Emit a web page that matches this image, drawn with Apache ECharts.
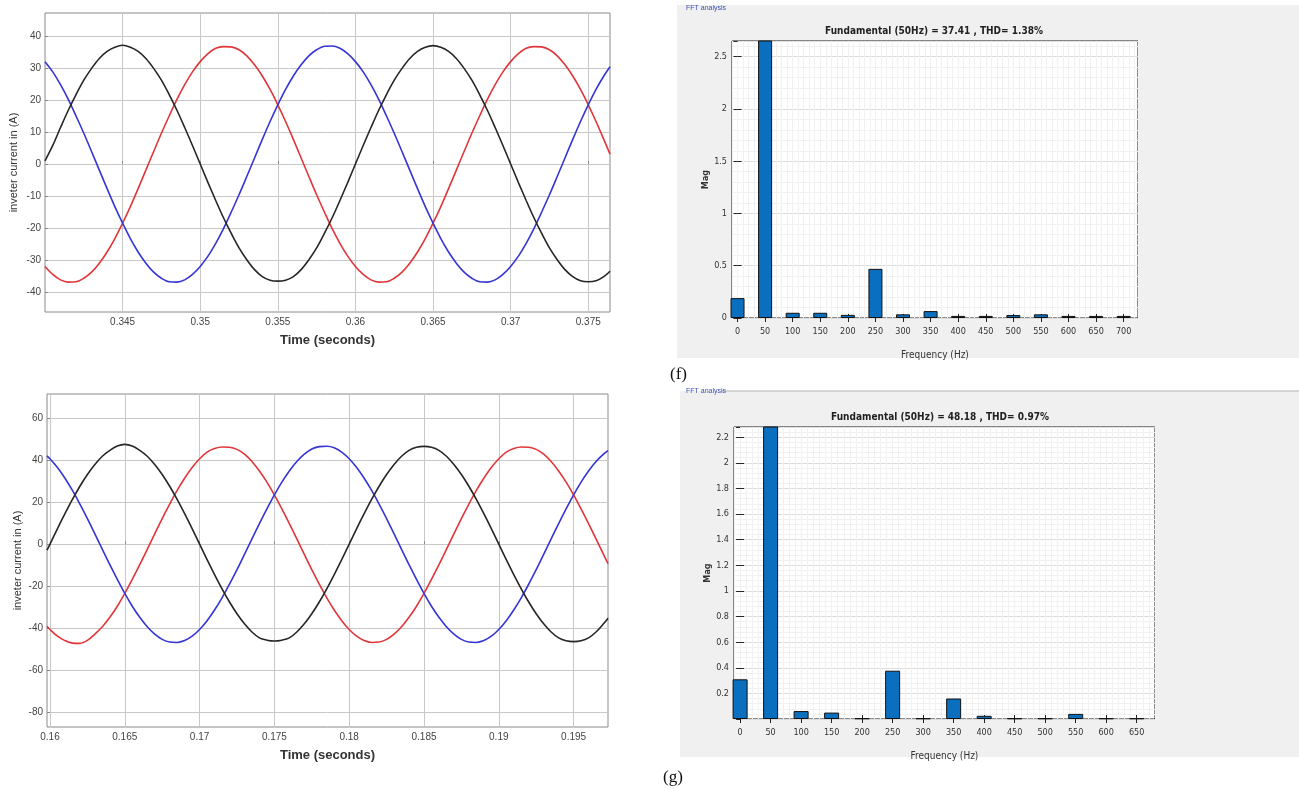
<!DOCTYPE html>
<html>
<head>
<meta charset="utf-8">
<script src="https://cdn.jsdelivr.net/npm/echarts@6/dist/echarts.min.js"></script>
<style>
html,body{margin:0;padding:0;background:#fff;}
#c{position:absolute;left:0;top:0;width:1299px;height:789px;}
</style>
</head>
<body>
<div id="c"></div>
<script>
// ---- top-left panel (time in seconds, inverter current in A)
const tTop = [0.3400,0.3405,0.3410,0.3415,0.3420,0.3425,0.3430,0.3435,0.3440,0.3445,0.3450,0.3455,0.3460,0.3465,0.3470,0.3475,0.3480,0.3485,0.3490,0.3495,0.3500,0.3505,0.3510,0.3515,0.3520,0.3525,0.3530,0.3535,0.3540,0.3545,0.3550,0.3555,0.3560,0.3565,0.3570,0.3575,0.3580,0.3585,0.3590,0.3595,0.3600,0.3605,0.3610,0.3615,0.3620,0.3625,0.3630,0.3635,0.3640,0.3645,0.3650,0.3655,0.3660,0.3665,0.3670,0.3675,0.3680,0.3685,0.3690,0.3695,0.3700,0.3705,0.3710,0.3715,0.3720,0.3725,0.3730,0.3735,0.3740,0.3745,0.3750,0.3755,0.3760,0.3764];
const blackTop = [1.0,5.8,11.4,16.8,21.7,26.2,29.9,33.0,35.2,36.5,37.1,36.5,35.2,33.0,29.9,26.2,21.7,16.8,11.4,5.8,0,-5.8,-11.4,-16.8,-21.7,-26.2,-29.9,-33.0,-35.2,-36.3,-36.6,-36.3,-35.2,-33.0,-29.9,-26.2,-21.7,-16.8,-11.4,-5.8,0,5.8,11.4,16.8,21.7,26.2,29.9,33.0,35.2,36.5,37.0,36.5,35.2,33.0,29.9,26.2,21.7,16.8,11.4,5.8,0,-5.8,-11.4,-16.8,-21.7,-26.2,-29.9,-33.0,-35.2,-36.5,-36.8,-36.5,-35.2,-33.5];
const redTop = [-32.0,-34.5,-36.2,-36.9,-36.8,-35.7,-33.8,-31.0,-27.5,-23.3,-18.5,-13.3,-7.7,-1.9,3.9,9.6,15.0,20.2,24.8,28.8,32.0,34.5,36.2,36.7,36.6,35.7,33.8,31.0,27.5,23.3,18.5,13.3,7.7,1.9,-3.9,-9.6,-15.0,-20.2,-24.8,-28.8,-32.0,-34.5,-36.2,-36.9,-36.8,-35.7,-33.8,-31.0,-27.5,-23.3,-18.5,-13.3,-7.7,-1.9,3.9,9.6,15.0,20.2,24.8,28.8,32.0,34.5,36.2,36.7,36.6,35.7,33.8,31.0,27.5,23.3,18.5,13.3,7.7,3.1];
const blueTop = [32.0,28.8,24.8,20.2,15.0,9.6,3.9,-1.9,-7.7,-13.3,-18.5,-23.3,-27.5,-31.0,-33.8,-35.7,-36.8,-36.9,-36.2,-34.5,-32.0,-28.8,-24.8,-20.2,-15.0,-9.6,-3.9,1.9,7.7,13.3,18.5,23.3,27.5,31.0,33.8,35.7,36.8,36.9,36.2,34.5,32.0,28.8,24.8,20.2,15.0,9.6,3.9,-1.9,-7.7,-13.3,-18.5,-23.3,-27.5,-31.0,-33.8,-35.7,-36.8,-36.9,-36.2,-34.5,-32.0,-28.8,-24.8,-20.2,-15.0,-9.6,-3.9,1.9,7.7,13.3,18.5,23.3,27.5,30.4];
const xTicksTop = [0.345,0.35,0.355,0.36,0.365,0.37,0.375];
const yTicksTop = [-40,-30,-20,-10,0,10,20,30,40];

// ---- bottom-left panel
const tBot = [0.1598,0.1600,0.1605,0.1610,0.1615,0.1620,0.1625,0.1630,0.1635,0.1640,0.1645,0.1650,0.1655,0.1660,0.1665,0.1670,0.1675,0.1680,0.1685,0.1690,0.1695,0.1700,0.1705,0.1710,0.1715,0.1720,0.1725,0.1730,0.1735,0.1740,0.1745,0.1750,0.1755,0.1760,0.1765,0.1770,0.1775,0.1780,0.1785,0.1790,0.1795,0.1800,0.1805,0.1810,0.1815,0.1820,0.1825,0.1830,0.1835,0.1840,0.1845,0.1850,0.1855,0.1860,0.1865,0.1870,0.1875,0.1880,0.1885,0.1890,0.1895,0.1900,0.1905,0.1910,0.1915,0.1920,0.1925,0.1930,0.1935,0.1940,0.1945,0.1950,0.1955,0.1960,0.1965,0.1970,0.1973];
const blackBot = [-2.9,0,7.4,14.5,21.3,27.6,33.2,38.0,41.9,44.7,46.8,47.6,46.8,44.7,41.9,38.0,33.2,27.6,21.3,14.5,7.4,0,-7.4,-14.5,-21.3,-27.6,-33.2,-38.0,-41.9,-44.7,-45.8,-46.2,-45.8,-44.7,-41.9,-38.0,-33.2,-27.6,-21.3,-14.5,-7.4,0,7.4,14.5,21.3,27.6,33.2,38.0,41.9,44.7,46.2,46.6,46.2,44.7,41.9,38.0,33.2,27.6,21.3,14.5,7.4,0,-7.4,-14.5,-21.3,-27.6,-33.2,-38.0,-41.9,-44.7,-46.1,-46.5,-46.1,-44.7,-41.9,-38.0,-35.3];
const redBot = [-39.1,-40.7,-43.9,-46.0,-47.2,-47.3,-45.9,-42.9,-39.4,-34.9,-29.6,-23.5,-16.8,-9.8,-2.5,4.9,12.2,19.1,25.6,31.4,36.5,40.7,43.9,45.6,46.3,46.2,45.2,42.9,39.4,34.9,29.6,23.5,16.8,9.8,2.5,-4.9,-12.2,-19.1,-25.6,-31.4,-36.5,-40.7,-43.9,-46.0,-46.9,-46.7,-45.4,-42.9,-39.4,-34.9,-29.6,-23.5,-16.8,-9.8,-2.5,4.9,12.2,19.1,25.6,31.4,36.5,40.7,43.9,45.6,46.3,46.2,45.2,42.9,39.4,34.9,29.6,23.5,16.8,9.8,2.5,-4.9,-9.3];
const blueBot = [42.1,40.7,36.5,31.4,25.6,19.1,12.2,4.9,-2.5,-9.8,-16.8,-23.5,-29.6,-34.9,-39.4,-42.9,-45.4,-46.7,-46.9,-46.0,-43.9,-40.7,-36.5,-31.4,-25.6,-19.1,-12.2,-4.9,2.5,9.8,16.8,23.5,29.6,34.9,39.4,42.9,45.4,46.5,46.7,46.0,43.9,40.7,36.5,31.4,25.6,19.1,12.2,4.9,-2.5,-9.8,-16.8,-23.5,-29.6,-34.9,-39.4,-42.9,-45.4,-46.7,-46.9,-46.0,-43.9,-40.7,-36.5,-31.4,-25.6,-19.1,-12.2,-4.9,2.5,9.8,16.8,23.5,29.6,34.9,39.4,42.9,44.6];
const xTicksBot = [0.16,0.165,0.17,0.175,0.18,0.185,0.19,0.195];
const yTicksBot = [-80,-60,-40,-20,0,20,40,60];

// ---- FFT (f)
const freqF = [0,50,100,150,200,250,300,350,400,450,500,550,600,650,700];
const magF = [0.19,37.41,0.05,0.05,0.03,0.47,0.035,0.066,0.02,0.02,0.028,0.035,0.02,0.02,0.02];
// ---- FFT (g)
const freqG = [0,50,100,150,200,250,300,350,400,450,500,550,600,650];
const magG = [0.31,48.18,0.062,0.05,0.005,0.377,0.005,0.16,0.025,0.005,0.005,0.04,0.005,0.005];

const titleF = 'Fundamental (50Hz) = 37.41 , THD= 1.38%';
const titleG = 'Fundamental (50Hz) = 48.18 , THD= 0.97%';

[[tTop, blackTop], [tTop, redTop], [tTop, blueTop], [tBot, blackBot], [tBot, redBot], [tBot, blueBot]].forEach(([a, b], i) => {
  if (a.length !== b.length) throw new Error('length mismatch ' + i + ': ' + a.length + ' vs ' + b.length);
});

const pairs = (xs, ys) => xs.map((x, i) => [x, ys[i]]);
const SANS = "'Liberation Sans', Arial, sans-serif";
const NARROW = "'Liberation Sans Narrow', 'DejaVu Sans Condensed', 'Liberation Sans', sans-serif";

const chart = echarts.init(document.getElementById('c'), null, {renderer: 'canvas'});

function leftX(idx, min, max, ticks) {
  return {
    type: 'value', gridIndex: idx, min: min, max: max,
    axisLine: {show: false},
    axisTick: {show: true, inside: true, length: 3, customValues: ticks, lineStyle: {color: '#888'}},
    axisLabel: {customValues: ticks, color: '#444', fontSize: 10, fontFamily: SANS, margin: 5,
      formatter: v => v.toFixed(3).replace(/0+$/, '')},
    splitLine: {show: true, lineStyle: {color: '#c8c8c8', width: 1}},
    name: 'Time (seconds)', nameLocation: 'middle', nameGap: 22,
    nameTextStyle: {fontSize: 13, fontWeight: 'bold', color: '#333', fontFamily: SANS}
  };
}
function leftY(idx, min, max, ticks, gap) {
  return {
    type: 'value', gridIndex: idx, min: min, max: max,
    axisLine: {show: false},
    axisTick: {show: true, inside: true, length: 3, customValues: ticks, lineStyle: {color: '#888'}},
    axisLabel: {customValues: ticks, color: '#444', fontSize: 10, fontFamily: SANS, margin: 4},
    splitLine: {show: true, lineStyle: {color: '#c8c8c8', width: 1}},
    name: 'inveter current in (A)', nameLocation: 'middle', nameGap: gap,
    nameTextStyle: {fontSize: 11, color: '#333', fontFamily: SANS}
  };
}
function fftX(idx, min, max, ticks) {
  return {
    type: 'value', gridIndex: idx, min: min, max: max,
    axisLine: {show: false},
    axisTick: {show: true, inside: true, length: 4, customValues: ticks, lineStyle: {color: '#222'}},
    axisLabel: {customValues: ticks, color: '#333', fontSize: 9, fontFamily: NARROW, margin: 9},
    splitLine: {show: true, lineStyle: {color: '#dcdcdc', width: 1}},
    name: 'Frequency (Hz)', nameLocation: 'middle', nameGap: 32,
    nameTextStyle: {fontSize: 10, color: '#333', fontFamily: NARROW}
  };
}
function fftXMinor(idx, max) {
  return {
    type: 'value', gridIndex: idx, min: -10, max: max, interval: 10, position: 'bottom',
    axisLine: {show: false}, axisTick: {show: false}, axisLabel: {show: false},
    splitLine: {show: true, lineStyle: {color: '#f1f1f1', width: 1}}
  };
}
function fftXTop(idx, min, max, ticks) {
  return {
    type: 'value', gridIndex: idx, min: min, max: max, position: 'top',
    axisLine: {show: false},
    axisTick: {show: true, inside: true, length: 4, customValues: ticks, lineStyle: {color: '#222'}},
    axisLabel: {show: false, customValues: ticks},
    splitLine: {show: false}
  };
}
function fftY(idx, max, interval, showMin) {
  return {
    type: 'value', gridIndex: idx, min: 0, max: max, interval: interval,
    axisLine: {show: false},
    axisTick: {show: true, inside: true, length: 4, lineStyle: {color: '#222'}},
    axisLabel: {color: '#333', fontSize: 9, fontFamily: NARROW, margin: 5, showMinLabel: showMin, showMaxLabel: false},
    splitLine: {show: true, lineStyle: {color: '#dcdcdc', width: 1}},
    minorTick: {show: false, splitNumber: 5},
    minorSplitLine: {show: true, lineStyle: {color: '#f1f1f1', width: 1}},
    name: 'Mag', nameLocation: 'middle', nameGap: 12,
    nameTextStyle: {fontSize: 9, fontWeight: 'bold', color: '#333', fontFamily: NARROW}
  };
}
function fftYRight(idx, max, interval) {
  return {
    type: 'value', gridIndex: idx, min: 0, max: max, interval: interval, position: 'right',
    axisLine: {show: false},
    axisTick: {show: true, inside: true, length: 4, lineStyle: {color: '#222'}},
    axisLabel: {show: false},
    splitLine: {show: false}
  };
}

const lineS = (xi, yi, t, v, color) => ({
  type: 'line', xAxisIndex: xi, yAxisIndex: yi, data: pairs(t, v),
  smooth: 0.35, showSymbol: false, symbol: 'none',
  lineStyle: {color: color, width: 1.6}, animation: false, silent: true
});
const barS = (xi, yi, f, m, w) => ({
  type: 'bar', xAxisIndex: xi, yAxisIndex: yi, data: pairs(f, m), barWidth: w, clip: true,
  itemStyle: {color: '#0a6fbe', borderColor: '#111', borderWidth: 1}, animation: false, silent: true
});

const option = {
  backgroundColor: '#ffffff',
  animation: false,
  graphic: [
    {type: 'rect', z: -10, shape: {x: 677, y: 5, width: 622, height: 353}, style: {fill: '#f0f0f0'}},
    {type: 'rect', z: -10, shape: {x: 680, y: 391, width: 619, height: 366}, style: {fill: '#f0f0f0'}},
    {type: 'line', z: -9, shape: {x1: 722, y1: 391, x2: 1299, y2: 391}, style: {stroke: '#c8c8c8', lineWidth: 1.5}},
    {type: 'text', z: 50, x: 686, y: 8, style: {text: 'FFT analysis', fill: '#3a4fb8', font: "7px " + SANS, textVerticalAlign: 'middle'}},
    {type: 'text', z: 50, x: 686, y: 391, style: {text: 'FFT analysis', fill: '#3a4fb8', font: "7px " + SANS, textVerticalAlign: 'middle'}},
    {type: 'text', z: 50, x: 934, y: 31, style: {text: titleF, fill: '#222', font: "bold 10px " + NARROW, textAlign: 'center', textVerticalAlign: 'middle'}},
    {type: 'text', z: 50, x: 940, y: 417, style: {text: titleG, fill: '#222', font: "bold 10px " + NARROW, textAlign: 'center', textVerticalAlign: 'middle'}},
    {type: 'text', z: 50, x: 670, y: 375, style: {text: '(f)', fill: '#111', font: "17px 'Liberation Serif', 'Times New Roman', serif", textVerticalAlign: 'middle'}},
    {type: 'text', z: 50, x: 663, y: 778, style: {text: '(g)', fill: '#111', font: "17px 'Liberation Serif', 'Times New Roman', serif", textVerticalAlign: 'middle'}}
  ],
  grid: [
    {left: 45, top: 13, width: 565, height: 299, show: true, backgroundColor: '#fff', borderColor: '#8a8a8a', borderWidth: 1},
    {left: 47, top: 394, width: 561, height: 333, show: true, backgroundColor: '#fff', borderColor: '#8a8a8a', borderWidth: 1},
    {left: 732, top: 41, width: 406, height: 277, show: true, backgroundColor: '#fff', borderColor: '#1a1a1a', borderWidth: 1},
    {left: 734, top: 427, width: 421, height: 292, show: true, backgroundColor: '#fff', borderColor: '#1a1a1a', borderWidth: 1}
  ],
  xAxis: [
    leftX(0, 0.34, 0.3764, xTicksTop),
    leftX(1, 0.1598, 0.1973, xTicksBot),
    fftX(2, -10, 726, freqF),
    fftX(3, -10, 680, freqG),
    fftXTop(2, -10, 726, freqF),
    fftXTop(3, -10, 680, freqG),
    fftXMinor(2, 726),
    fftXMinor(3, 680)
  ],
  yAxis: [
    leftY(0, -46.25, 47.2, yTicksTop, 26),
    leftY(1, -87.2, 71.6, yTicksBot, 24),
    fftY(2, 2.65, 0.5, true),
    fftY(3, 2.28, 0.2, false),
    fftYRight(2, 2.65, 0.5),
    fftYRight(3, 2.28, 0.2)
  ],
  series: [
    lineS(0, 0, tTop, redTop, '#e0363a'),
    lineS(0, 0, tTop, blueTop, '#3535d6'),
    lineS(0, 0, tTop, blackTop, '#262626'),
    lineS(1, 1, tBot, redBot, '#e0363a'),
    lineS(1, 1, tBot, blueBot, '#3535d6'),
    lineS(1, 1, tBot, blackBot, '#262626'),
    barS(2, 2, freqF, magF, 14),
    barS(3, 3, freqG, magG, 15)
  ]
};
chart.setOption(option);
</script>
</body>
</html>
